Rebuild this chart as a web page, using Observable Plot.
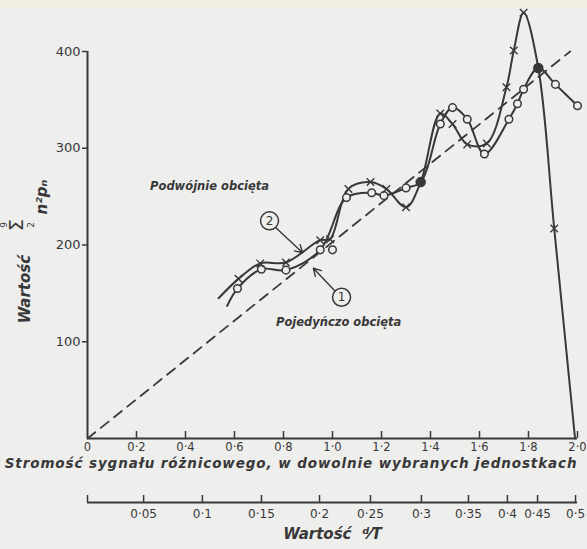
<!DOCTYPE html>
<html><head><meta charset="utf-8">
<script src="https://cdn.jsdelivr.net/npm/d3@7"></script>
<script src="https://cdn.jsdelivr.net/npm/@observablehq/plot@0.6"></script>
<style>
html,body{margin:0;padding:0;}
body{width:587px;height:549px;overflow:hidden;background:linear-gradient(#f3efe0 0,#f3efe0 8px,#eeeeec 8px);}
#chart svg{display:block}
</style></head><body><div id="chart"></div>
<script>
// ---- data ----
const xTicks = [0, 0.2, 0.4, 0.6, 0.8, 1.0, 1.2, 1.4, 1.6, 1.8, 2.0];
const xTickLabels = ["0", "0·2", "0·4", "0·6", "0·8", "1·0", "1·2", "1·4", "1·6", "1·8", "2·0"];
const yTicks = [100, 200, 300, 400];
const yTickLabels = ["100", "200", "300", "400"];
// secondary d/T axis: label and where it falls on the primary (stromość) scale
const dtTickLabels = ["0·05", "0·1", "0·15", "0·2", "0·25", "0·3", "0·35", "0·4", "0·45", "0·5"];
const dtTickAt = [0.229, 0.469, 0.710, 0.947, 1.155, 1.363, 1.555, 1.714, 1.837, 1.992];

// curve 2: "Podwójnie obcięta" (crosses)
const crossX = [0.535, 0.616, 0.705, 0.81, 0.95, 0.99, 1.065, 1.155, 1.22, 1.30, 1.36, 1.44, 1.49, 1.55, 1.63, 1.71, 1.74, 1.78, 1.84, 1.905, 1.99];
const crossY = [145, 165, 181, 182, 205, 206, 258, 265, 258, 239, 265, 336, 325, 304, 305, 363, 401, 440, 383, 217, 0];
// curve 1: "Pojedyńczo obcięta" (circles)
const circX = [0.57, 0.612, 0.71, 0.81, 0.95, 1.057, 1.16, 1.21, 1.30, 1.36, 1.44, 1.49, 1.55, 1.62, 1.72, 1.755, 1.78, 1.84, 1.91, 2.0];
const circY = [137, 155, 175, 174, 195, 249, 254, 251, 259, 265, 325, 342, 330, 294, 330, 346, 361, 383, 366, 344];
// points common to both curves (filled)
const sharedX = [1.36, 1.84];
const sharedY = [265, 383];
// stray circle
const strayX = [1.0];
const strayY = [195];
// dashed reference line
const diagX = [0, 1.97];
const diagY = [0, 400];

// annotations
const seriesNames = ["Podwójnie obcięta", "Pojedyńczo obcięta"];
const nameX = [0.498, 1.025];
const nameY = [261, 120];
const calloutText = ["2", "1"];
const calloutX = [0.743, 1.037];
const calloutY = [225, 146];
const arrowX1 = [0.768, 1.008];
const arrowY1 = [218, 153];
const arrowX2 = [0.878, 0.922];
const arrowY2 = [192, 176];

const xTitle = "Stromość sygnału różnicowego, w dowolnie wybranych jednostkach";
const yTitle = "Wartość";
const ySum = "Σ";
const ySumTop = "9";
const ySumBottom = "2";
const yTerm = "n²pₙ";
const dtTitle = "Wartość  ᵈ⁄T";

// ---- build ----
const ink = "#383838";
const bg = "#eeeeec";
const font = "'DejaVu Sans', sans-serif";
const W = 587;
const zip = (xs, ys) => xs.map((x, i) => ({x, y: ys[i]}));
const cross = zip(crossX, crossY);
const circ = zip(circX, circY);
const isShared = d => sharedX.includes(d.x);
const crossMarks = cross.slice(1, -1).filter(d => !isShared(d));
const circMarks = circ.slice(1).filter(d => !isShared(d));
const shared = zip(sharedX, sharedY);
const stray = zip(strayX, strayY);
const diag = zip(diagX, diagY);
const names = seriesNames.map((t, i) => ({t, x: nameX[i], y: nameY[i]}));
const callouts = calloutText.map((t, i) => ({t, x: calloutX[i], y: calloutY[i]}));
const arrows = arrowX1.map((x1, i) => ({x1, y1: arrowY1[i], x2: arrowX2[i], y2: arrowY2[i]}));
const xLab = new Map(xTicks.map((d, i) => [d, xTickLabels[i]]));
const yLab = new Map(yTicks.map((d, i) => [d, yTickLabels[i]]));
const dtLab = new Map(dtTickAt.map((d, i) => [d, dtTickLabels[i]]));

const bold = {fontWeight: "bold", fontStyle: "italic", fill: ink};
const rot = {frameAnchor: "left", textAnchor: "middle", rotate: -90};

const main = Plot.plot({
  width: W, height: 478,
  marginLeft: 87, marginRight: 10, marginTop: 51, marginBottom: 40,
  x: {domain: [0, 2], axis: null},
  y: {domain: [0, 400], axis: null},
  style: {background: "transparent", fontFamily: font, fontSize: "12px", color: ink, overflow: "visible"},
  marks: [
    Plot.axisX({ticks: xTicks, tickSize: 0, tickPadding: 4, tickFormat: d => xLab.get(d), label: null, fontSize: 11.5}),
    Plot.tickX(xTicks.filter(d => d > 0), {x: d => d, insetTop: 380, stroke: ink, strokeWidth: 1.5}),
    Plot.axisY({ticks: yTicks, tickSize: 5, tickPadding: 2, tickFormat: d => yLab.get(d), label: null, fontSize: 13, strokeWidth: 1.5}),
    Plot.ruleX([0], {stroke: ink, strokeWidth: 2}),
    Plot.ruleY([0], {stroke: ink, strokeWidth: 2}),
    Plot.line(diag, {x: "x", y: "y", stroke: ink, strokeWidth: 1.8, strokeDasharray: "10,7"}),
    Plot.line(circ, {x: "x", y: "y", stroke: ink, strokeWidth: 2, curve: "catmull-rom"}),
    Plot.line(cross, {x: "x", y: "y", stroke: ink, strokeWidth: 2, curve: "catmull-rom"}),
    Plot.dot(circMarks, {x: "x", y: "y", r: 3.8, fill: bg, stroke: ink, strokeWidth: 1.5}),
    Plot.dot(stray, {x: "x", y: "y", r: 3.8, fill: bg, stroke: ink, strokeWidth: 1.5}),
    Plot.dot(crossMarks, {x: "x", y: "y", symbol: "times", r: 3.5, stroke: ink, strokeWidth: 1.4}),
    Plot.dot(shared, {x: "x", y: "y", r: 4.5, fill: ink, stroke: ink}),
    Plot.arrow(arrows, {x1: "x1", y1: "y1", x2: "x2", y2: "y2", stroke: ink, strokeWidth: 1.4, headLength: 9}),
    Plot.dot(callouts, {x: "x", y: "y", r: 9, fill: bg, stroke: ink, strokeWidth: 1.5}),
    Plot.text(callouts, {x: "x", y: "y", text: "t", fontSize: 12, fill: ink}),
    Plot.text(names, {x: "x", y: "y", text: "t", fontSize: 11.5, ...bold}),
    Plot.text([xTitle], {text: d => d, frameAnchor: "bottom-right", textAnchor: "end", dy: 29, fontSize: 13.5, ...bold}),
    Plot.text([yTitle], {text: d => d, ...rot, dx: -62, dy: 44, fontSize: 15, ...bold}),
    Plot.text([ySum], {text: d => d, ...rot, dx: -71, dy: -20, fontSize: 19, fill: ink}),
    Plot.text([ySumTop], {text: d => d, ...rot, dx: -83, dy: -20, fontSize: 9, fill: ink}),
    Plot.text([ySumBottom], {text: d => d, ...rot, dx: -56, dy: -20, fontSize: 9, fill: ink}),
    Plot.text([yTerm], {text: d => d, ...rot, dx: -45, dy: -48, fontSize: 15, ...bold})
  ]
});

const sub = Plot.plot({
  width: W, height: 71,
  marginLeft: 87, marginRight: 10, marginTop: 0, marginBottom: 47,
  x: {domain: [0, 2], axis: null},
  y: {domain: [0, 1], axis: null},
  style: {background: "transparent", fontFamily: font, fontSize: "12px", color: ink, overflow: "visible"},
  marks: [
    Plot.ruleY([0], {stroke: ink, strokeWidth: 2}),
    Plot.tickX([0, ...dtTickAt], {x: d => d, insetTop: 17, stroke: ink, strokeWidth: 1.5}),
    Plot.axisX({ticks: dtTickAt, tickSize: 0, tickPadding: 7, tickFormat: d => dtLab.get(d), label: null, fontSize: 12}),
    Plot.text([dtTitle], {text: d => d, frameAnchor: "bottom", dy: 36, fontSize: 15, ...bold})
  ]
});

// widen the long x title a little, like the hand-lettered original
for (const t of main.querySelectorAll("text")) {
  if (t.textContent === xTitle) t.style.letterSpacing = "0.9px";
}

const el = document.getElementById("chart");
el.append(main, sub);
</script>
</body></html>
